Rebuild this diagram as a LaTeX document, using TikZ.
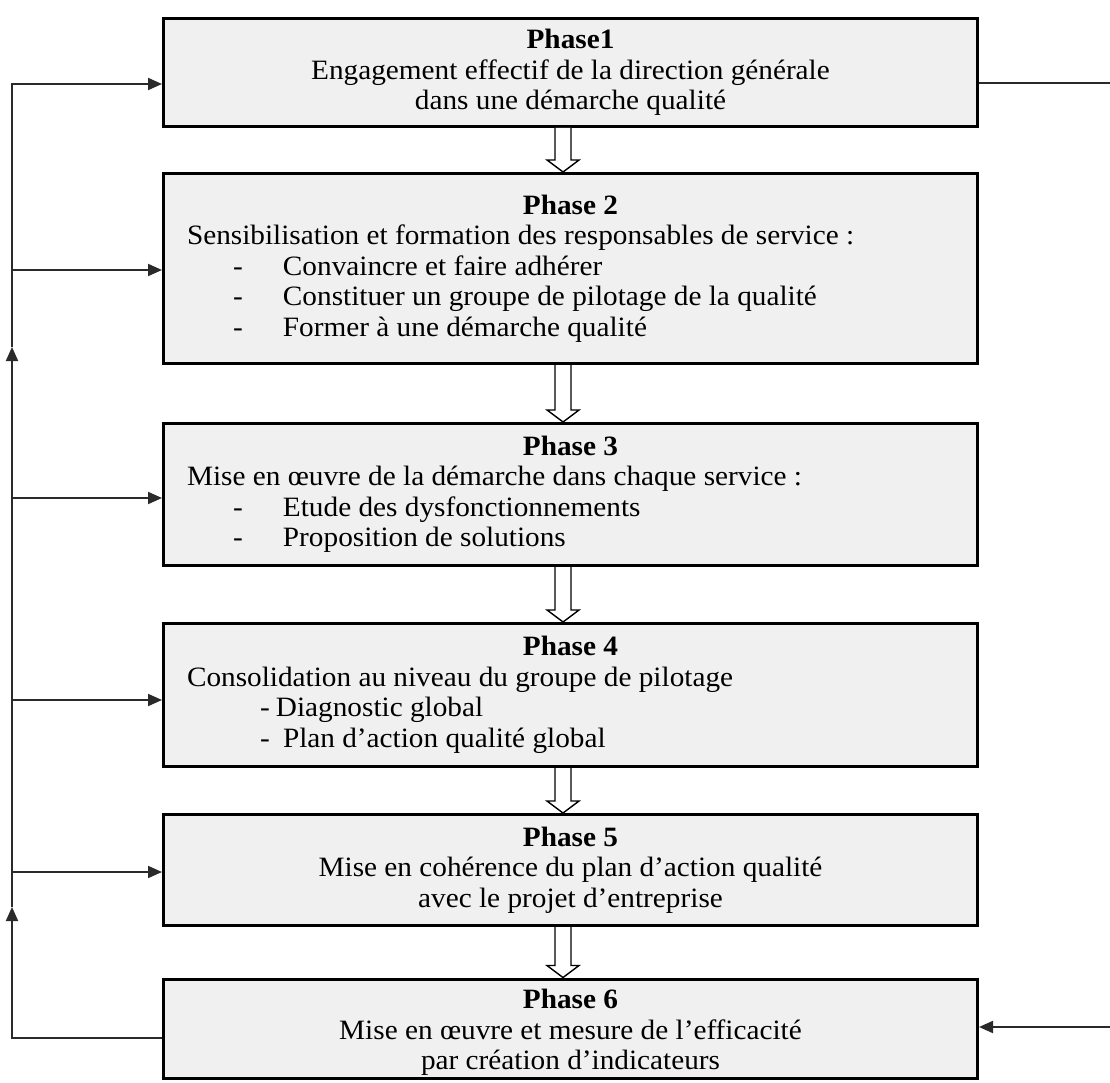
\documentclass[tikz,border=0pt]{standalone}
\usepackage{fontspec}
\setmainfont{Liberation Serif}[FakeStretch=1.045]
\usetikzlibrary{arrows.meta,calc}

\definecolor{boxfill}{HTML}{F0F0F0}
\definecolor{linkgray}{HTML}{2A2A2A}

% width of the text column inside each phase box
\newlength\phasew
\setlength\phasew{767pt}
\newcommand\ctline[1]{\makebox[\phasew][c]{#1}}
\newcommand\lfline[1]{\makebox[\phasew][l]{#1}}
\newcommand\dashitem[1]{\lfline{\hspace*{46pt}\makebox[50pt][l]{-}#1}}

% hollow block arrow from the bottom of one box to the top of the next
\newcommand\hollowlink[2]{%
  \path[hollow]
    ($(#1.south)+(-15.5pt,0)$) -- ($(#2.north)+(-15.5pt,12pt)$)
    -- ($(#2.north)+(-23.5pt,12pt)$) -- ($(#2.north)+(-7.5pt,0)$)
    -- ($(#2.north)+(8.5pt,12pt)$) -- ($(#2.north)+(0.5pt,12pt)$)
    -- ($(#1.south)+(0.5pt,0)$);}

\begin{document}
\begin{tikzpicture}[x=1pt,y=-1pt,
  phasebox/.style={draw=black, line width=3pt, fill=boxfill,
    minimum width=814pt, inner xsep=0pt, inner ysep=0pt, align=left,
    font=\fontsize{28}{30.5}\selectfont},
  link/.style={draw=linkgray, line width=1.9pt},
  tipped/.style={-{Triangle[length=14pt,width=12pt]}},
  hollow/.style={draw=black, line width=1.4pt, fill=white, line join=miter}]

\fill[white] (0,0) rectangle (1110,1083);
\useasboundingbox (0,0) rectangle (1110,1083);

\node[phasebox, minimum height=108pt] (p1) at (570.5,72.5) {%
  \ctline{\textbf{Phase1}}\\
  \ctline{Engagement effectif de la direction générale}\\
  \ctline{dans une démarche qualité}};

\node[phasebox, minimum height=190pt] (p2) at (570.5,268.5) {%
  \ctline{\textbf{Phase 2}}\\
  \lfline{Sensibilisation et formation des responsables de service :}\\
  \dashitem{Convaincre et faire adhérer}\\
  \dashitem{Constituer un groupe de pilotage de la qualité}\\
  \dashitem{Former à une démarche qualité}};

\node[phasebox, minimum height=142pt] (p3) at (570.5,494.5) {%
  \ctline{\textbf{Phase 3}}\\
  \lfline{Mise en œuvre de la démarche dans chaque service :}\\
  \dashitem{Etude des dysfonctionnements}\\
  \dashitem{Proposition de solutions}};

\node[phasebox, minimum height=143pt] (p4) at (570.5,695) {%
  \ctline{\textbf{Phase 4}}\\
  \lfline{Consolidation au niveau du groupe de pilotage}\\
  \lfline{\hspace*{73pt}\makebox[16pt][l]{-}Diagnostic global}\\
  \lfline{\hspace*{73pt}\makebox[23pt][l]{-}Plan d’action qualité global}};

\node[phasebox, minimum height=111pt] (p5) at (570.5,870) {%
  \ctline{\textbf{Phase 5}}\\
  \ctline{Mise en cohérence du plan d’action qualité}\\
  \ctline{avec le projet d’entreprise}};

% the strut lowers the text block a little inside the last box
\node[phasebox, minimum height=99pt] (p6) at (570.5,1028.5) {%
  \ctline{\rule{0pt}{27pt}\textbf{Phase 6}}\\
  \ctline{Mise en œuvre et mesure de l’efficacité}\\
  \ctline{par création d’indicateurs}};

% block arrows between consecutive phases
\hollowlink{p1}{p2}
\hollowlink{p2}{p3}
\hollowlink{p3}{p4}
\hollowlink{p4}{p5}
\hollowlink{p5}{p6}

% feedback loop on the left
\coordinate (tl)  at (12,84);
\coordinate (c2)  at (12,270);
\coordinate (c3)  at (12,498);
\coordinate (c4)  at (12,700);
\coordinate (c5)  at (12,872);
\coordinate (up1) at (12,347);
\coordinate (up2) at (12,907);
\coordinate (bl)  at (12,1038);

\draw[link,tipped] (p6.west |- bl) -- (bl) -- (up2);
\draw[link,tipped] (up2) -- (up1);
\draw[link,tipped] (up1) -- (tl) -- (tl -| p1.west);
\draw[link,tipped] (c2) -- (c2 -| p2.west);
\draw[link,tipped] (c3) -- (c3 -| p3.west);
\draw[link,tipped] (c4) -- (c4 -| p4.west);
\draw[link,tipped] (c5) -- (c5 -| p5.west);

% links leaving on the right
\coordinate (r1) at (1110,83);
\coordinate (r6) at (1110,1027);
\draw[link] (p1.east |- r1) -- (r1);
\draw[link,tipped] (r6) -- (r6 -| p6.east);

\end{tikzpicture}
\end{document}
